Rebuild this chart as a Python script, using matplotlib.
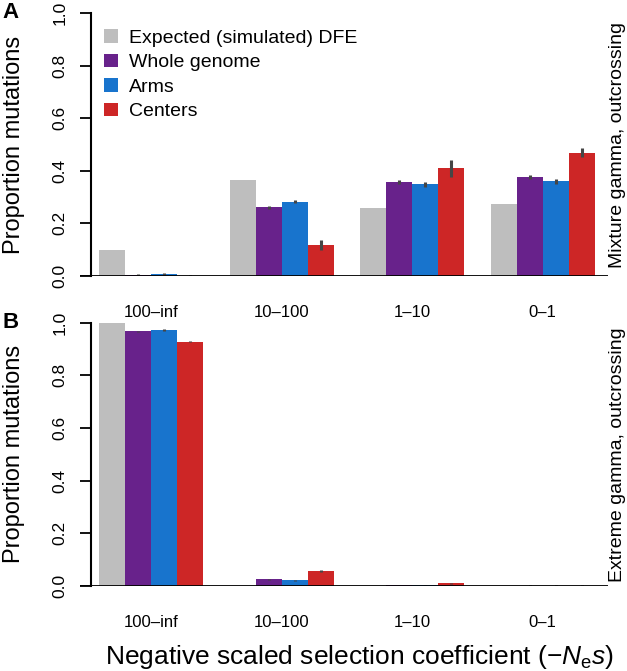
import matplotlib
matplotlib.use("Agg")
import matplotlib.pyplot as plt
import numpy as np

plt.rcParams["font.family"] = ["Liberation Sans", "DejaVu Sans"]
plt.rcParams["mathtext.fontset"] = "custom"
plt.rcParams["mathtext.rm"] = "Liberation Sans"
plt.rcParams["mathtext.it"] = "Liberation Sans:italic"

CATEGORIES = ["100\u2013inf", "10\u2013100", "1\u201310", "0\u20131"]
SERIES = ["Expected (simulated) DFE", "Whole genome", "Arms", "Centers"]
COLORS = ["#BEBEBE", "#68228B", "#1874CD", "#CD2626"]

# panel A: mixture gamma, outcrossing
A_VALUES = {
    "Expected (simulated) DFE": [0.099, 0.366, 0.260, 0.272],
    "Whole genome": [0.003, 0.262, 0.357, 0.375],
    "Arms": [0.006, 0.283, 0.348, 0.360],
    "Centers": [0.001, 0.118, 0.410, 0.469],
}
A_ERRORS = {
    "Expected (simulated) DFE": [0, 0, 0, 0],
    "Whole genome": [0.003, 0.006, 0.009, 0.008],
    "Arms": [0.004, 0.006, 0.009, 0.009],
    "Centers": [0.002, 0.020, 0.032, 0.018],
}

# panel B: extreme gamma, outcrossing
B_VALUES = {
    "Expected (simulated) DFE": [1.000, 0.001, 0.000, 0.000],
    "Whole genome": [0.967, 0.025, 0.003, 0.001],
    "Arms": [0.972, 0.021, 0.003, 0.001],
    "Centers": [0.928, 0.057, 0.010, 0.001],
}
B_ERRORS = {
    "Expected (simulated) DFE": [0, 0, 0, 0],
    "Whole genome": [0.003, 0.003, 0.002, 0.001],
    "Arms": [0.003, 0.003, 0.002, 0.001],
    "Centers": [0.003, 0.003, 0.003, 0.001],
}

W, H = 627, 671


def draw_panel(ax, values, errors, side_text, letter):
    n_groups = len(CATEGORIES)
    for s, (name, color) in enumerate(zip(SERIES, COLORS)):
        lefts = 1 + 5 * np.arange(n_groups) + s
        ax.bar(lefts, values[name], width=1.0, align="edge", color=color,
               edgecolor="none", label=name, zorder=2)
        err = np.array(errors[name])
        if err.any():
            ax.errorbar(lefts + 0.5, values[name], yerr=err, fmt="none",
                        ecolor="#454545", elinewidth=2.2, capsize=0, zorder=3)

    ax.set_xlim(0.27, 20.5)
    ax.set_ylim(0, 1.0)
    ax.axhline(0, color="black", lw=1.3, zorder=4)
    for side in ["top", "right", "bottom"]:
        ax.spines[side].set_visible(False)
    ax.spines["left"].set_position(("data", 0.69))
    ax.spines["left"].set_linewidth(1.5)
    ax.spines["left"].set_bounds(0, 1)

    ax.set_yticks(np.arange(0, 1.01, 0.2))
    ax.set_yticklabels([f"{v:.1f}" for v in np.arange(0, 1.01, 0.2)],
                       rotation=90, va="center")
    ax.tick_params(axis="y", length=8, width=1.3, pad=9, labelsize=12.5)
    ax.set_xticks(3 + 5 * np.arange(n_groups))
    ax.set_xticklabels(CATEGORIES)
    ax.tick_params(axis="x", length=0, pad=21, labelsize=12)

    ax.set_ylabel("Proportion mutations", fontsize=17)
    ax.yaxis.set_label_coords(-0.104, 0.5)
    ax.text(1.018, 0.5, side_text, transform=ax.transAxes, rotation=90,
            ha="center", va="center", fontsize=14)
    ax.text(-0.146, 1.0, letter, transform=ax.transAxes, ha="left",
            va="center", fontsize=16, fontweight="bold")


fig = plt.figure(figsize=(W / 100, H / 100), dpi=100)
ax_a = fig.add_axes([80 / W, 1 - 276 / H, 528 / W, 263 / H])
ax_b = fig.add_axes([80 / W, 1 - 586 / H, 528 / W, 263.3 / H])

draw_panel(ax_a, A_VALUES, A_ERRORS, "Mixture gamma, outcrossing", "A")
draw_panel(ax_b, B_VALUES, B_ERRORS, "Extreme gamma, outcrossing", "B")

ax_a.legend(loc="upper left", bbox_to_anchor=(104 / W, 1 - 29 / H),
            bbox_transform=fig.transFigure, frameon=False, fontsize=14,
            handlelength=0.7, handleheight=0.7, handletextpad=0.6,
            labelspacing=0.36, borderaxespad=0, borderpad=0)

fig.text(360 / W, 1 - 657 / H,
         "Negative scaled selection coefficient (\u2212$N_\\mathrm{e}s$)",
         ha="center", va="center", fontsize=19)

fig.savefig("out.png", dpi=100)
